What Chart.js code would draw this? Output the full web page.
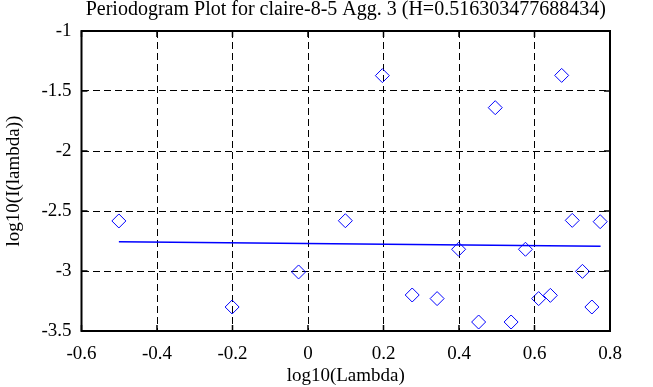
<!DOCTYPE html>
<html>
<head>
<meta charset="utf-8">
<script src="https://cdn.jsdelivr.net/npm/chart.js@4"></script>
<style>
  html, body { margin: 0; padding: 0; background: #fff; }
  #wrap { width: 653px; height: 387px; }
</style>
</head>
<body>
<div id="wrap"><canvas id="chart"></canvas></div>
<script>
// periodogram points (log10 frequency vs log10 power)
const logLambda = [-0.501, -0.201, -0.025, 0.099, 0.197, 0.276, 0.342, 0.399, 0.452, 0.496,
                   0.538, 0.576, 0.611, 0.642, 0.672, 0.700, 0.727, 0.752, 0.774];
const logPower = [-2.583, -3.300, -3.008, -2.581, -1.372, -3.200, -3.230, -2.819, -3.425, -1.639,
                  -3.425, -2.819, -3.230, -3.203, -1.370, -2.578, -3.003, -3.300, -2.589];

// least squares fit line ends
const fitX = [-0.501, 0.775];
const fitY = [-2.756, -2.794];

const xTicks = [-0.6, -0.4, -0.2, 0, 0.2, 0.4, 0.6, 0.8];
const yTicks = [-3.5, -3, -2.5, -2, -1.5, -1];

const serif = 'Liberation Serif';

// frame plus small inward tick marks on all four sides
const framePlugin = {
    id: 'frame',
    afterDraw(chart) {
        const ctx = chart.ctx;
        const a = chart.chartArea;
        const xs = chart.scales.x, ys = chart.scales.y;
        ctx.save();
        ctx.strokeStyle = '#000';
        ctx.lineWidth = 1.5;
        ctx.beginPath();
        xTicks.forEach(v => {
            const px = xs.getPixelForValue(v);
            ctx.moveTo(px, a.bottom); ctx.lineTo(px, a.bottom - 6);
            ctx.moveTo(px, a.top); ctx.lineTo(px, a.top + 6);
        });
        yTicks.forEach(v => {
            const py = ys.getPixelForValue(v);
            ctx.moveTo(a.left, py); ctx.lineTo(a.left + 6, py);
            ctx.moveTo(a.right, py); ctx.lineTo(a.right - 6, py);
        });
        ctx.stroke();
        ctx.lineWidth = 2;
        ctx.strokeRect(a.left, a.top, a.right - a.left, a.bottom - a.top);
        ctx.restore();
    }
};

let ctx = document.getElementById('chart').getContext('2d');

new Chart(ctx, {
    type: 'scatter',
    data: {
        datasets: [{
            label: 'periodogram',
            data: logLambda.map((x, i) => ({ x: x, y: logPower[i] })),
            pointStyle: 'rectRot',
            pointRadius: 7,
            pointHoverRadius: 7,
            pointBorderWidth: 1,
            borderColor: '#0000ff',
            backgroundColor: 'rgba(0,0,0,0)',
            showLine: false
        }, {
            type: 'line',
            label: 'fit',
            data: fitX.map((x, i) => ({ x: x, y: fitY[i] })),
            borderColor: '#0000ff',
            borderWidth: 1.5,
            pointRadius: 0,
            fill: false
        }]
    },
    options: {
        responsive: true,
        maintainAspectRatio: false,
        animation: false,
        layout: { padding: { left: 0, right: 43, top: 0, bottom: 0 } },
        plugins: {
            legend: { display: false },
            tooltip: { enabled: false },
            title: {
                display: true,
                fullSize: false,
                text: 'Periodogram Plot for claire-8-5 Agg. 3 (H=0.516303477688434)',
                color: '#000',
                font: { family: serif, size: 20, weight: 'normal', lineHeight: 1 },
                padding: { top: 0, bottom: 11 }
            }
        },
        scales: {
            x: {
                type: 'linear',
                min: -0.6,
                max: 0.8,
                afterBuildTicks: s => { s.ticks = xTicks.map(v => ({ value: v })); },
                afterFit: s => { s.height = 56; },
                grid: { color: '#000', lineWidth: 1, drawTicks: false },
                border: { display: false, dash: [7, 4] },
                ticks: {
                    color: '#000',
                    padding: 12,
                    font: { family: serif, size: 19 },
                    callback: v => String(Math.round(v * 10) / 10)
                },
                title: {
                    display: true,
                    text: 'log10(Lambda)',
                    color: '#000',
                    font: { family: serif, size: 19, lineHeight: 1.2 },
                    padding: { top: 0, bottom: 0 }
                }
            },
            y: {
                type: 'linear',
                min: -3.5,
                max: -1,
                afterBuildTicks: s => { s.ticks = yTicks.map(v => ({ value: v })); },
                afterFit: s => { s.width = 81.5; },
                grid: { color: '#000', lineWidth: 1, drawTicks: false },
                border: { display: false, dash: [7, 4] },
                ticks: {
                    color: '#000',
                    padding: 10,
                    font: { family: serif, size: 19 },
                    callback: v => String(Math.round(v * 10) / 10)
                },
                title: {
                    display: true,
                    text: 'log10(I(lambda))',
                    color: '#000',
                    font: { family: serif, size: 19, lineHeight: 1.2 },
                    padding: { top: 3, bottom: 0 }
                }
            }
        }
    },
    plugins: [framePlugin]
});
</script>
</body>
</html>
